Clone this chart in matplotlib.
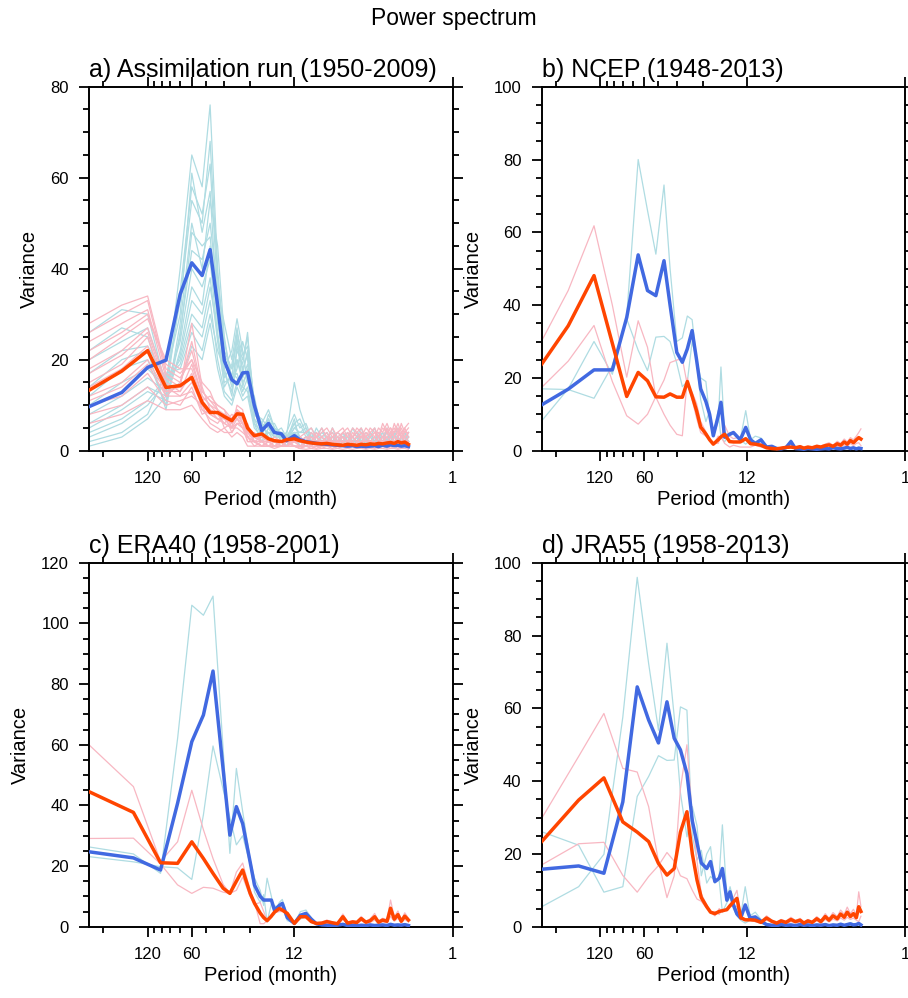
import numpy as np
import matplotlib.pyplot as plt
from matplotlib.ticker import NullFormatter

plt.rcParams['font.family'] = ['Liberation Sans', 'DejaVu Sans']

# ---------------- a) Assimilation run (1950-2009) ----------------
a_per = [300, 180, 120, 90, 72, 60, 51, 45, 40, 36, 32, 29.5, 27, 25, 22.5, 20, 18, 16.4, 14.7, 13.6, 12,
         11, 10, 9.2, 8.5, 7.8, 7.2, 6.6, 6.1, 5.6, 5.2, 4.8, 4.5, 4.2, 3.9, 3.65, 3.4, 3.2, 3.0, 2.8,
         2.65, 2.5, 2.36, 2.24, 2.12, 2.0]
a_blue = [9.7, 12.8, 18.3, 19.9, 34.4, 41.3, 38.5, 44.2, 32, 19.8, 15.6, 14.7, 17.1, 17.2, 10, 4.4, 6.0, 4.0, 3.7, 2.2, 3.3,
          2.4, 2.0, 1.8, 1.6, 1.5, 1.4, 1.3, 1.2, 1.1, 1.0, 1.1, 0.9, 1.0, 0.9, 1.0, 1.1, 0.9, 1.2, 1.0, 1.3, 1.1, 1.2, 1.0, 1.1, 0.9]
a_red = [13.3, 17.5, 22, 13.9, 14.3, 16.1, 10.6, 8.4, 8.4, 7.5, 6.6, 8.1, 8, 5, 3.3, 3.7, 2.6, 2.2, 2.0, 2.4, 2.6,
         2.2, 1.9, 1.7, 1.6, 1.5, 1.6, 1.4, 1.3, 1.2, 1.4, 1.3, 1.2, 1.4, 1.3, 1.5, 1.4, 1.6, 1.5, 1.7, 1.8, 1.6, 2.0, 1.7, 1.9, 1.4]
a_cyan_lo = [
    [26, 31, 30, 14, 40, 65, 58, 76, 40, 22, 18, 24, 20, 25, 10, 6, 9, 5, 4, 3, 6],
    [22, 27, 25, 12, 35, 58, 52, 63, 35, 28, 20, 27, 17, 22, 9, 5, 7, 4, 5, 3, 15],
    [20, 24, 27, 15, 33, 55, 50, 68, 38, 24, 16, 26, 21, 23, 11, 5, 6, 4, 3, 2, 5],
    [17, 22, 23, 16, 30, 61, 48, 57, 30, 18, 22, 29, 22, 15, 12, 4, 6, 6, 3, 4, 8],
    [14, 20, 22, 9, 26, 44, 42, 50, 35, 21, 18, 20, 16, 19, 9, 4, 7, 3, 4, 3, 4],
    [12, 18, 20, 10, 28, 50, 40, 55, 45, 25, 15, 18, 24, 20, 8, 7, 5, 3, 4, 2, 5],
    [10, 15, 18, 14, 24, 40, 36, 42, 25, 17, 13, 23, 18, 21, 8, 6, 5, 5, 2, 2, 6],
    [8, 12, 16, 13, 25, 48, 45, 47, 30, 16, 19, 25, 14, 18, 11, 3, 8, 5, 2, 3, 4],
    [6, 10, 14, 12, 21, 33, 30, 38, 24, 15, 16, 17, 13, 16, 7, 3, 4, 3, 3, 2, 3],
    [5, 9, 13, 11, 22, 36, 32, 45, 28, 20, 14, 22, 19, 26, 7, 5, 4, 4, 3, 2, 7],
    [4, 7, 11, 16, 19, 28, 25, 33, 20, 13, 11, 15, 14, 13, 6, 4, 3, 2, 2, 1, 4],
    [3, 6, 10, 15, 20, 30, 27, 36, 26, 14, 17, 16, 12, 14, 6, 2, 5, 3, 3, 1, 3],
    [2, 4, 8, 17, 18, 26, 22, 30, 22, 18, 12, 20, 15, 17, 9, 6, 3, 2, 2, 2, 4],
    [1, 3, 7, 12, 15, 23, 20, 28, 18, 12, 10, 14, 11, 12, 5, 3, 4, 2, 1, 1, 3],
]
a_cyan_hi = [
    [7, 4, 5, 3, 4, 3, 2, 4, 3, 2, 5, 3, 2, 4, 3, 5, 2, 3, 4, 2, 3, 5, 3, 2, 4],
    [9, 5, 3, 4, 2, 3, 4, 2, 3, 4, 2, 3, 5, 2, 3, 2, 4, 3, 2, 4, 2, 3, 4, 3, 2],
    [6, 3, 4, 2, 3, 4, 2, 3, 2, 4, 2, 3, 3, 2, 4, 2, 3, 2, 3, 2, 4, 2, 3, 2, 3],
    [5, 6, 3, 3, 5, 2, 3, 3, 2, 3, 3, 4, 2, 3, 2, 3, 3, 2, 5, 3, 2, 2, 3, 4, 3],
    [4, 5, 2, 3, 2, 3, 3, 2, 4, 2, 3, 2, 4, 2, 2, 3, 2, 4, 2, 3, 2, 3, 2, 4, 2],
    [4, 4, 2, 5, 3, 2, 5, 2, 4, 2, 3, 2, 3, 2, 4, 2, 3, 4, 2, 3, 4, 2, 2, 3, 2],
    [3, 2, 3, 4, 2, 2, 3, 2, 2, 3, 2, 2, 2, 3, 2, 2, 3, 2, 2, 2, 3, 2, 2, 2, 2],
    [3, 2, 4, 2, 3, 4, 2, 3, 2, 3, 2, 3, 2, 3, 2, 3, 2, 2, 3, 2, 3, 3, 2, 2, 3],
    [2, 3, 2, 2, 3, 2, 2, 3, 2, 2, 2, 3, 2, 2, 2, 2, 2, 3, 2, 2, 2, 3, 2, 3, 2],
    [2, 3, 2, 3, 2, 2, 3, 2, 3, 2, 2, 2, 3, 2, 2, 2, 2, 3, 2, 2, 2, 2, 3, 2, 2],
    [2, 1, 2, 1, 2, 1, 2, 1, 1, 2, 1, 1, 1, 2, 1, 1, 2, 1, 1, 2, 1, 1, 1, 1, 2],
    [2, 2, 3, 2, 2, 3, 2, 2, 2, 2, 3, 2, 2, 2, 3, 2, 2, 2, 2, 3, 2, 2, 2, 2, 3],
    [1, 2, 1, 2, 1, 2, 1, 1, 2, 1, 1, 2, 1, 1, 1, 2, 1, 1, 1, 1, 2, 1, 1, 2, 1],
    [1, 1, 2, 1, 1, 1, 1, 2, 1, 1, 1, 1, 1, 2, 1, 1, 1, 1, 2, 1, 1, 1, 1, 1, 1],
]
a_pink_lo = [
    [28, 32, 34, 18, 16, 20, 12, 10, 9, 8, 6, 9, 8, 5, 3, 2, 3, 2, 2, 3, 2],
    [26, 30, 33, 17, 15, 24, 13, 11, 10, 9, 7, 9, 7, 5, 3, 2, 2, 2, 1, 2, 2],
    [24, 28, 31, 16, 14, 28, 14, 9, 8, 7, 7, 8, 6, 4, 2, 3, 2, 1, 2, 2, 3],
    [22, 26, 30, 19, 17, 20, 15, 13, 9, 7, 6, 7, 8, 4, 3, 3, 2, 2, 2, 1, 2],
    [20, 25, 29, 20, 18, 18, 11, 12, 10, 9, 5, 10, 9, 3, 4, 2, 1, 2, 1, 2, 2],
    [18, 22, 27, 15, 13, 19, 12, 10, 8, 8, 7, 9, 6, 5, 2, 1, 2, 1, 2, 2, 1],
    [17, 21, 26, 14, 12, 15, 10, 8, 7, 6, 8, 7, 5, 6, 2, 1, 2, 3, 2, 1, 2],
    [15, 19, 25, 13, 14, 16, 11, 9, 8, 6, 5, 7, 6, 3, 2, 2, 1, 2, 1, 1, 2],
    [14, 18, 23, 12, 15, 22, 13, 11, 9, 5, 6, 8, 7, 4, 3, 2, 2, 1, 1, 2, 1],
    [12, 15, 20, 13, 13, 17, 9, 7, 6, 8, 4, 6, 6, 2, 2, 1, 2, 2, 2, 1, 2],
    [11, 14, 19, 12, 12, 13, 9, 8, 7, 7, 5, 6, 5, 3, 2, 1, 1, 1, 1, 2, 1],
    [10, 12, 17, 11, 10, 14, 8, 9, 7, 6, 5, 5, 4, 3, 1, 2, 1, 1, 1, 2, 1],
    [8, 10, 14, 10, 11, 12, 10, 6, 5, 4, 4, 6, 5, 2, 2, 1, 1, 1, 2, 1, 1],
    [6, 8, 11, 9, 9, 10, 7, 5, 4, 5, 3, 4, 3, 1, 1, 1, 1, 0.5, 1, 1, 1],
]
a_pink_hi = [
    [3, 4, 5, 3, 4, 5, 3, 4, 5, 3, 5, 4, 3, 5, 4, 3, 5, 4, 6, 4, 5, 3, 6, 4, 5],
    [3, 2, 4, 3, 5, 3, 4, 2, 4, 5, 3, 4, 5, 3, 4, 5, 3, 6, 4, 5, 4, 6, 4, 5, 6],
    [2, 3, 2, 4, 3, 2, 5, 3, 2, 4, 3, 5, 4, 3, 5, 4, 3, 5, 4, 3, 6, 4, 5, 3, 4],
    [2, 3, 3, 2, 3, 2, 3, 4, 3, 2, 4, 3, 3, 4, 3, 4, 4, 3, 5, 3, 4, 5, 3, 4, 4],
    [2, 2, 3, 2, 3, 4, 2, 3, 4, 3, 2, 3, 4, 2, 3, 4, 3, 2, 4, 5, 3, 4, 3, 5, 3],
    [1, 2, 2, 3, 2, 3, 2, 2, 3, 2, 3, 2, 3, 3, 2, 3, 2, 3, 3, 4, 3, 2, 3, 3, 4],
    [2, 1, 2, 3, 2, 2, 3, 2, 3, 2, 3, 2, 2, 3, 2, 3, 2, 3, 2, 3, 2, 3, 4, 2, 3],
    [1, 1, 2, 1, 2, 1, 2, 2, 1, 2, 2, 1, 2, 2, 2, 1, 2, 2, 2, 2, 2, 2, 3, 2, 2],
    [1, 2, 1, 2, 2, 3, 1, 2, 2, 2, 1, 2, 3, 2, 2, 2, 3, 2, 3, 2, 3, 2, 2, 3, 2],
    [1, 1, 2, 1, 1, 2, 2, 1, 2, 1, 2, 1, 2, 1, 2, 1, 2, 2, 1, 2, 2, 3, 2, 2, 2],
    [0.5, 1, 1, 0.5, 1, 1, 1, 0.5, 1, 1, 1, 1, 0.5, 1, 1, 1, 1, 1, 1, 0.5, 1, 1, 1, 1, 1],
    [1, 1, 1, 1, 2, 1, 1, 2, 1, 1, 1, 2, 1, 1, 1, 2, 1, 1, 2, 1, 2, 1, 2, 1, 1],
    [0.5, 1, 0.5, 1, 0.5, 1, 0.5, 1, 1, 0.5, 1, 0.5, 1, 0.5, 1, 0.5, 1, 1, 0.5, 1, 1, 0.5, 1, 1, 0.5],
    [0.5, 0.3, 0.5, 0.3, 0.5, 0.5, 0.3, 0.5, 0.3, 0.5, 0.3, 0.5, 0.5, 0.3, 0.5, 0.3, 0.5, 0.5, 0.3, 0.5, 0.5, 0.3, 0.5, 0.5, 0.3],
]

# ---------------- b) NCEP (1948-2013) ----------------
b_per = [300, 198, 132, 99, 79, 66, 57, 50, 44, 40, 36, 33, 30.5, 28.3, 26.4, 24.75, 22.8, 21.5, 20.3, 18.8, 18, 17,
         15.7, 14.8, 13.3, 12.2, 11.3,
         10.5, 9.6, 8.8, 8.1, 7.5, 7, 6.5, 6, 5.6, 5.2, 4.9, 4.6, 4.3, 4, 3.75, 3.5, 3.3, 3.1, 2.9, 2.75,
         2.6, 2.48, 2.36, 2.25, 2.15, 2.07, 2.0]
b_blue = [12.6, 16.9, 22.2, 22.2, 36.6, 53.8, 44, 42.6, 52.2, 40, 27, 24.3, 28, 33, 25, 17, 13.5, 10, 4.1, 9.5, 13.3,
          3.7, 4.5, 5, 3, 6.4, 3,
          2, 3, 1, 1.2, 0.6, 0.5, 0.8, 2.5, 0.6, 0.5, 0.4, 0.6, 0.5, 0.4, 0.5, 0.6, 0.5, 0.8, 0.6, 0.5, 0.7, 0.9,
          0.6, 0.8, 0.5, 0.7, 0.6]
b_red = [23.8, 34.3, 48.1, 29.5, 14.9, 21.5, 19.2, 14.8, 14.7, 15.6, 14.7, 14.7, 19, 15, 11, 6.5, 4.6, 3, 1.8, 3, 3.8,
         4.5, 2.5, 2.4, 2.4, 3.3, 1.9,
         1.8, 1.5, 0.8, 0.6, 0.5, 0.7, 0.9, 1.0, 0.8, 1.1, 0.7, 1.0, 0.8, 1.2, 1.0, 1.4, 1.6, 1.2, 1.9, 1.5, 2.4, 1.8,
         2.8, 2.2, 3.0, 3.6, 3.2]
b_cyan = [
    [8.2, 17, 30, 21, 37, 80, 66, 54, 73, 50, 30, 31, 37, 36, 25, 20, 19, 9, 4, 8, 23, 5, 4, 5, 3, 11, 3,
     4, 3.5, 1.2, 1.0, 0.5, 0.4, 0.9, 3.0, 0.5, 0.4, 0.5, 0.7, 0.4, 0.3, 0.6, 0.5, 0.4, 0.8, 0.5, 0.6, 0.8, 1.2,
     0.5, 0.9, 0.6, 1.0, 0.7],
    [17, 16.8, 14.4, 23.4, 36.2, 27.6, 22, 31.2, 31.4, 30, 24, 17.6, 19, 30, 25, 14, 8, 11, 4.2, 11, 3.6, 2.4, 5, 5,
     3, 1.8, 3,
     1.5, 2.5, 0.8, 1.4, 0.7, 0.6, 0.7, 2.0, 0.7, 0.6, 0.3, 0.5, 0.6, 0.5, 0.4, 0.7, 0.6, 0.8, 0.7, 0.4, 0.6, 0.6,
     0.7, 0.7, 0.4, 0.4, 0.5],
]
b_pink = [
    [30.2, 44, 61.8, 40, 20.2, 35.7, 28.4, 14.7, 10, 7, 4.5, 4.1, 20, 14, 9, 5, 4, 3, 2, 2, 4, 2, 1, 1.5, 1, 1, 1,
     1.5, 1.0, 0.6, 0.5, 0.4, 0.9, 1.2, 1.1, 0.7, 1.4, 0.9, 1.2, 1.0, 1.5, 1.3, 1.8, 2.2, 1.5, 2.6, 2.0, 3.2, 2.4,
     3.6, 3.0, 4.0, 5.0, 6.0],
    [17.4, 24.6, 34.4, 19, 9.6, 7.3, 10, 14.9, 19.4, 24.2, 24.9, 25.3, 18, 16, 13, 8, 5.2, 3, 1.6, 4, 3.6, 7, 4, 3.3,
     3.8, 5.6, 2.8,
     2.1, 2.0, 1.0, 0.7, 0.6, 0.5, 0.6, 0.9, 0.9, 0.8, 0.5, 0.8, 0.6, 0.9, 0.7, 1.0, 1.0, 0.9, 1.2, 1.0, 1.6, 1.2,
     2.0, 1.4, 2.0, 2.2, 1.4],
]

# ---------------- c) ERA40 (1958-2001) ----------------
c_per = [300, 150, 98, 75, 60, 50, 43, 36.7, 33, 29.8, 27, 24, 22.4, 20.5, 19.4, 18.4, 17.2, 16.4, 15.2, 14.5, 13.4,
         12, 10.9,
         10, 9.2, 8.5, 7.8, 7.2, 6.6, 6.1, 5.6, 5.2, 4.8, 4.5, 4.2, 3.9, 3.65, 3.4, 3.2, 3.0, 2.8, 2.65, 2.5, 2.36,
         2.24, 2.12, 2.0]
c_blue = [24.7, 22.7, 18.7, 40.7, 61, 69.8, 84.3, 52, 30.2, 39.6, 34, 21.3, 13.7, 10, 8.8, 8.8, 8.8, 5.5, 7, 7.7, 3,
          1.1, 3.8,
          4.4, 2.5, 1.0, 0.6, 0.5, 0.4, 0.5, 0.8, 0.4, 0.5, 0.3, 0.5, 0.4, 0.6, 0.4, 0.5, 0.6, 0.4, 0.8, 0.5, 0.6,
          0.5, 0.7, 0.4]
c_red = [44.5, 37.7, 21.1, 20.9, 28, 22.5, 17.6, 12.7, 11, 15, 18.7, 11, 7.7, 4.5, 3, 2, 3.5, 4.8, 6, 5.5, 4.4, 1.1,
         3.3,
         3.3, 1.7, 1.1, 1.2, 1.7, 1.3, 1.0, 3.3, 1.2, 1.6, 1.4, 2.7, 1.5, 2.0, 3.3, 1.5, 2.2, 1.8, 6.1, 2.5, 4.0, 1.8,
         3.5, 2.2]
c_cyan = [
    [26.3, 24, 17.6, 62, 106, 102.7, 109, 58.7, 24.2, 52.2, 38, 22, 16, 12, 7, 16, 10, 4, 8, 9, 4, 1, 5,
     5.5, 3.0, 1.2, 0.8, 0.6, 0.5, 0.7, 1.0, 0.5, 0.6, 0.4, 0.7, 0.5, 0.8, 0.5, 0.6, 0.8, 0.5, 1.0, 0.6, 0.8, 0.6,
     0.9, 0.5],
    [23.1, 21.4, 19.8, 19.4, 15.6, 36.9, 59.6, 45.3, 36, 27, 30, 20.6, 11.4, 8, 10.6, 1.6, 7.6, 7, 6, 6.4, 2, 1.2,
     2.6,
     3.3, 2.0, 0.8, 0.4, 0.4, 0.3, 0.3, 0.6, 0.3, 0.4, 0.2, 0.3, 0.3, 0.4, 0.3, 0.4, 0.4, 0.3, 0.6, 0.4, 0.4, 0.4,
     0.5, 0.3],
]
c_pink = [
    [59.9, 46.2, 21.5, 28, 45, 32, 22.5, 14, 11, 18, 21, 12, 8, 1, 1, 2, 3, 5, 7, 6, 4, 1, 3,
     3.6, 2.0, 1.3, 1.5, 2.2, 1.6, 1.2, 4.2, 1.5, 2.0, 1.7, 3.4, 1.8, 2.6, 4.4, 1.9, 2.8, 2.3, 8.8, 3.2, 5.2, 2.3,
     4.6, 2.8],
    [29.1, 29.2, 20.7, 13.8, 11, 13, 12.7, 11.4, 11, 12, 16.4, 10, 7.4, 8, 5, 2, 4, 4.6, 5, 5, 4.8, 1.2, 3.6,
     3.0, 1.4, 0.9, 0.9, 1.2, 1.0, 0.8, 2.4, 0.9, 1.2, 1.1, 2.0, 1.2, 1.4, 2.2, 1.1, 1.6, 1.3, 3.4, 1.8, 2.8, 1.3,
     2.4, 1.6],
]

# ---------------- d) JRA55 (1958-2013) ----------------
d_per = [300, 168, 113, 84, 67, 56, 48, 42, 37.5, 34, 30.7, 28.2, 26.2, 24.5, 22.5, 21.2, 19.8, 18.5, 17.6, 16.4,
         15.6, 14.8, 14, 13.2, 12.3, 11.4,
         10.5, 9.6, 8.8, 8.1, 7.5, 7, 6.5, 6, 5.6, 5.2, 4.9, 4.6, 4.3, 4, 3.75, 3.5, 3.3, 3.1, 2.9, 2.75,
         2.6, 2.48, 2.36, 2.25, 2.15, 2.07, 2.0]
d_blue = [15.8, 16.7, 14.7, 34.3, 65.9, 56.8, 50.5, 61.8, 51.8, 48.6, 42.1, 29, 23, 17.5, 16, 17.9, 12.4, 13.3, 16,
          7.3, 9.6, 6, 3.5, 2.4, 6, 2.4,
          2.7, 1.5, 0.6, 0.4, 0.3, 0.6, 0.4, 0.5, 0.3, 0.6, 0.4, 0.5, 0.3, 0.5, 0.4, 0.6, 0.3, 0.5, 0.4, 0.7, 0.4,
          0.6, 0.8, 0.5, 0.6, 0.9, 0.5]
d_red = [23.4, 34.8, 40.9, 28.8, 26, 23.4, 17.4, 14.2, 16, 26, 31.6, 20, 12.8, 8, 5.5, 4, 3.6, 4.2, 4.4, 4.7, 5.8,
         6.8, 7.8, 2.5, 1.9, 1.9,
         1.8, 1.2, 2.4, 1.5, 1.0, 1.6, 1.2, 2.0, 1.4, 1.8, 1.0, 1.6, 1.2, 2.2, 1.4, 2.8, 1.8, 3.0, 2.2, 3.5, 2.6,
         4.0, 2.8, 3.6, 2.5, 5.5, 4.2]
d_cyan = [
    [5.5, 11, 19.9, 57.6, 96, 72.3, 54, 77.9, 57.8, 36.8, 24.7, 33, 27.7, 14, 20, 22, 12, 14, 28, 8, 11, 7, 4, 3, 11,
     3,
     4.0, 2.0, 0.8, 0.5, 0.4, 0.8, 0.5, 0.7, 0.4, 0.8, 0.5, 0.7, 0.4, 0.7, 0.5, 0.8, 0.4, 0.7, 0.5, 0.9, 0.5,
     0.8, 1.1, 0.7, 0.8, 1.2, 0.7],
    [26.1, 22.4, 9.5, 11, 35.8, 41.3, 47, 45.7, 45.8, 60.4, 59.5, 25, 18.3, 21, 12, 13.8, 12.8, 12.6, 4, 6.6, 8.2, 5,
     3, 1.8, 1, 1.8,
     1.4, 1.0, 0.4, 0.3, 0.2, 0.4, 0.3, 0.3, 0.2, 0.4, 0.3, 0.3, 0.2, 0.3, 0.3, 0.4, 0.2, 0.3, 0.3, 0.5, 0.3,
     0.4, 0.5, 0.3, 0.4, 0.6, 0.3],
]
d_pink = [
    [29.8, 46.8, 58.6, 43.5, 42.5, 33, 18, 8, 14, 38, 50, 30, 18, 9, 6, 4, 3, 5, 4, 5, 6, 8, 10, 3, 2, 2,
     2.2, 1.5, 3.0, 1.8, 1.3, 2.0, 1.5, 2.6, 1.7, 2.3, 1.3, 2.0, 1.5, 2.8, 1.8, 3.6, 2.3, 3.9, 2.8, 4.6, 3.4,
     5.4, 3.6, 4.8, 3.2, 9.6, 5.5],
    [17, 22.8, 23.2, 14.1, 9.5, 13.8, 16.8, 20.4, 18, 14, 13.2, 10, 7.6, 7, 5, 4, 4.2, 3.4, 4.8, 4.4, 5.6, 5.6, 5.6,
     2, 1.8, 1.8,
     1.4, 0.9, 1.8, 1.2, 0.7, 1.2, 0.9, 1.4, 1.1, 1.3, 0.7, 1.2, 0.9, 1.6, 1.0, 2.0, 1.3, 2.1, 1.6, 2.4, 1.8,
     2.6, 2.0, 2.4, 1.8, 1.4, 2.9],
]

titles = ['a) Assimilation run (1950-2009)', 'b) NCEP (1948-2013)',
          'c) ERA40 (1958-2001)', 'd) JRA55 (1958-2013)']
ymax = [80, 100, 120, 100]
major_x = [120, 60, 12, 1]
minor_x = [240, 108, 96, 84, 72, 48, 36, 24]

thin_blue = '#afdce2'
thin_red = '#f8b7c2'
thick_blue = '#4169e1'
thick_red = '#ff4500'

fig = plt.figure(figsize=(9.08, 9.98), dpi=100)
boxes = [[0.0983, 0.5484, 0.4002, 0.3647], [0.5966, 0.5484, 0.4002, 0.3647],
         [0.0983, 0.0714, 0.4002, 0.3647], [0.5966, 0.0714, 0.4002, 0.3647]]

panels = [
    (a_per, a_blue, a_red, [lo + hi for lo, hi in zip(a_cyan_lo, a_cyan_hi)],
     [lo + hi for lo, hi in zip(a_pink_lo, a_pink_hi)]),
    (b_per, b_blue, b_red, b_cyan, b_pink),
    (c_per, c_blue, c_red, c_cyan, c_pink),
    (d_per, d_blue, d_red, d_cyan, d_pink),
]

for i, (per, blue, red, cyans, pinks) in enumerate(panels):
    ax = fig.add_axes(boxes[i])
    for m in cyans:
        ax.plot(per, m, color=thin_blue, lw=0.9, zorder=1)
    for m in pinks:
        ax.plot(per, m, color=thin_red, lw=0.9, zorder=2)
    ax.plot(per, blue, color=thick_blue, lw=2.5, zorder=3)
    ax.plot(per, red, color=thick_red, lw=2.5, zorder=4)

    ax.set_xscale('log')
    ax.set_xlim(300, 1)
    ax.set_ylim(0, ymax[i])
    ax.set_xticks(major_x)
    ax.set_xticklabels([str(v) for v in major_x])
    ax.set_xticks(minor_x, minor=True)
    ax.xaxis.set_minor_formatter(NullFormatter())
    ax.set_yticks(np.arange(0, ymax[i] + 1, 20))
    ax.set_yticks(np.arange(0, ymax[i] + 1, 5), minor=True)

    ax.tick_params(which='both', direction='out', top=True, right=True, width=1.3)
    ax.tick_params(which='major', length=7.5, labelsize=12, pad=7)
    ax.tick_params(which='minor', length=4)
    for s in ax.spines.values():
        s.set_linewidth(1.4)

    ax.set_title(titles[i], loc='left', fontsize=18, pad=7)
    ax.set_ylabel('Variance', fontsize=14.5, labelpad=8)
    ax.set_xlabel('Period (month)', fontsize=14.5, labelpad=3)

fig.text(0.4995, 1 - 18 / 998, 'Power spectrum', ha='center', va='center', fontsize=16.5)

fig.savefig('out.png', dpi=100)
